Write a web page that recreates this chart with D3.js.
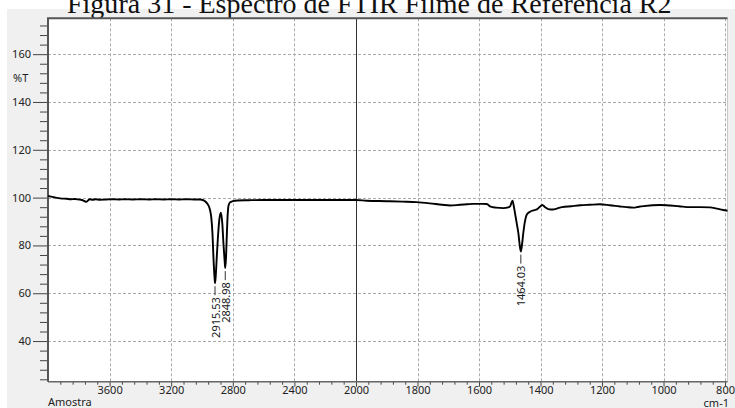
<!DOCTYPE html>
<html>
<head>
<meta charset="utf-8">
<script src="https://cdn.jsdelivr.net/npm/d3@7"></script>
<style>
  html, body { margin: 0; padding: 0; background: #ffffff; }
  svg { display: block; }
</style>
</head>
<body>
<svg id="chart" width="735" height="408"></svg>
<script>
// FTIR spectrum: wavenumber (cm-1) and transmittance (%T)
const wavenumbers = [
  4000, 3980, 3950, 3920, 3880, 3850, 3826, 3800, 3780, 3765, 3752, 3740, 3728, 3710, 3690, 3664,
  3620, 3580, 3540, 3500, 3450, 3400, 3340, 3300, 3250, 3200, 3150, 3100, 3050, 3010,
  2995, 2980, 2965, 2950, 2940, 2932, 2925, 2919, 2915.53, 2911, 2905, 2897, 2888, 2877,
  2868, 2860, 2853, 2848.98, 2844, 2839, 2834, 2828, 2818, 2800, 2770, 2700, 2600, 2500,
  2400, 2300, 2200, 2100, 2000, 1965, 1900, 1850, 1803, 1760, 1720, 1694, 1662, 1640, 1619,
  1590, 1575, 1562, 1545, 1521, 1505, 1499, 1494, 1491, 1487, 1483, 1477, 1472, 1468,
  1464.03, 1460, 1456, 1450, 1445, 1434, 1420, 1412, 1400, 1394, 1385, 1375, 1360, 1345,
  1330, 1300, 1270, 1240, 1207, 1175, 1142, 1120, 1098, 1080, 1060, 1035, 1012, 990, 979,
  950, 914, 880, 849, 830, 816, 800, 792
];
const transmittance = [
  100.7, 100.4, 100.0, 99.7, 99.5, 99.3, 99.4, 99.2, 99.0, 98.6, 98.2, 98.8, 99.3, 99.1, 99.3, 99.1,
  99.2, 99.3, 99.2, 99.3, 99.2, 99.3, 99.2, 99.3, 99.2, 99.3, 99.2, 99.3, 99.2, 99.2,
  99.0, 98.5, 97.4, 95.3, 91.8, 85.0, 74.0, 67.0, 64.2, 67.0, 74.0, 83.0, 90.5, 93.7,
  89.0, 80.0, 73.5, 70.5, 75.0, 84.0, 92.0, 96.6, 98.0, 98.5, 98.8, 98.9, 99.0, 99.0,
  99.0, 99.0, 99.0, 99.0, 99.0, 98.7, 98.5, 98.3, 98.1, 97.6, 97.0, 96.7, 97.0, 97.2, 97.4,
  97.4, 97.3, 96.2, 95.8, 95.6, 95.9, 96.3, 98.0, 98.7, 96.5, 93.5, 89.0, 85.1, 80.5,
  77.4, 80.5, 85.2, 90.5, 92.8, 94.1, 94.8, 95.1, 96.4, 96.9, 96.0, 95.2, 95.0, 95.5,
  96.0, 96.4, 96.8, 97.0, 97.2, 96.8, 96.3, 96.0, 95.8, 96.2, 96.5, 96.8, 96.9, 96.8, 96.7,
  96.4, 96.0, 96.0, 95.9, 95.5, 95.1, 94.7, 94.5
];

// Labelled absorption bands
const peakPositions = [2915.53, 2848.98, 1464.03];
const peakValues = [64.2, 70.5, 77.4];
const peakLabels = ["2915.53", "2848.98", "1464.03"];

// Axis ticks
const xMajorTicks = [3600, 3200, 2800, 2400, 2000, 1800, 1600, 1400, 1200, 1000, 800];
const xMinorTicksHigh = [3920, 3840, 3760, 3680, 3520, 3440, 3360, 3280, 3120, 3040, 2960, 2880,
  2720, 2640, 2560, 2480, 2320, 2240, 2160, 2080];
const xMinorTicksLow = [1960, 1920, 1880, 1840, 1760, 1720, 1680, 1640, 1560, 1520, 1480, 1440,
  1360, 1320, 1280, 1240, 1160, 1120, 1080, 1040, 960, 920, 880, 840];
const yMajorTicks = [40, 60, 80, 100, 120, 140, 160];
const yMinorTicks = [24, 28, 32, 36, 44, 48, 52, 56, 64, 68, 72, 76, 84, 88, 92, 96, 104, 108, 112, 116,
  124, 128, 132, 136, 144, 148, 152, 156, 164, 168, 172];

const titleText = "Figura 31 - Espectro de FTIR Filme de Referência R2";
const yUnit = "%T";
const xUnit = "cm-1";
const sampleName = "Amostra";

const svg = d3.select("#chart");
const W = 735, H = 408;
const plot = { left: 48, right: 727.5, top: 18.3, bottom: 381.7 };

// x axis changes scale at 2000 cm-1 (expanded fingerprint region)
const x = d3.scaleLinear()
  .domain([4000, 2000, 792])
  .range([plot.left, 356, plot.right]);
const y = d3.scaleLinear()
  .domain([23, 175])
  .range([plot.bottom, plot.top]);

const sans = "'Noto Sans', 'Open Sans', 'Liberation Sans', sans-serif";

// window panel
svg.append("rect").attr("x", 0).attr("y", 0).attr("width", W).attr("height", H).attr("fill", "#ffffff");
svg.append("rect").attr("x", 7).attr("y", 9).attr("width", W - 7).attr("height", H - 9).attr("fill", "#f0f0f0");

// plot area
svg.append("rect")
  .attr("x", plot.left).attr("y", plot.top)
  .attr("width", plot.right - plot.left).attr("height", plot.bottom - plot.top)
  .attr("fill", "#ffffff");

// title
const title = svg.append("text")
  .attr("x", 67).attr("y", 12.5)
  .attr("font-family", "'Liberation Serif', 'Times New Roman', serif")
  .attr("font-size", 25)
  .attr("fill", "#111")
  .text(titleText);
const tLen = title.node().getComputedTextLength();
title.attr("font-size", 25 * 605 / tLen);

// grid
const grid = svg.append("g").attr("stroke", "#ababab").attr("stroke-width", 1).attr("stroke-dasharray", "3,2");
grid.selectAll("line.h").data(yMajorTicks).join("line")
  .attr("x1", plot.left).attr("x2", plot.right)
  .attr("y1", d => Math.round(y(d)) + 0.5).attr("y2", d => Math.round(y(d)) + 0.5);
grid.selectAll("line.v").data(xMajorTicks.filter(d => d !== 2000)).join("line")
  .attr("x1", d => Math.round(x(d)) + 0.5).attr("x2", d => Math.round(x(d)) + 0.5)
  .attr("y1", plot.top).attr("y2", plot.bottom);

// region divider at 2000 cm-1
svg.append("line")
  .attr("x1", Math.round(x(2000)) + 0.5).attr("x2", Math.round(x(2000)) + 0.5)
  .attr("y1", plot.top).attr("y2", plot.bottom)
  .attr("stroke", "#333").attr("stroke-width", 1);

// axes
function styleAxis(g) {
  g.select(".domain").remove();
  g.selectAll(".tick line").attr("stroke", "#444");
  g.selectAll(".tick text").attr("fill", "#222").attr("font-family", sans).attr("font-size", 11);
}

svg.append("g").attr("transform", `translate(${plot.left},0)`)
  .call(d3.axisLeft(y).tickValues(yMinorTicks).tickSize(8).tickFormat(""))
  .call(styleAxis);
svg.append("g").attr("transform", `translate(${plot.left},0)`)
  .call(d3.axisLeft(y).tickValues(yMajorTicks).tickSize(15).tickPadding(2))
  .call(styleAxis);

svg.append("g").attr("transform", `translate(0,${plot.bottom})`)
  .call(d3.axisBottom(x).tickValues(xMinorTicksHigh.concat(xMinorTicksLow)).tickSize(3).tickFormat(""))
  .call(styleAxis);
svg.append("g").attr("transform", `translate(0,${plot.bottom})`)
  .call(d3.axisBottom(x).tickValues(xMajorTicks).tickSize(5).tickPadding(-1).tickFormat(d3.format("d")))
  .call(styleAxis);

// frame
svg.append("line").attr("x1", plot.right).attr("x2", plot.right).attr("y1", plot.top).attr("y2", plot.bottom)
  .attr("stroke", "#c8c8c8").attr("stroke-width", 1);
svg.append("path")
  .attr("d", `M${plot.left},${plot.bottom} V${plot.top} H${plot.right}`)
  .attr("fill", "none").attr("stroke", "#555").attr("stroke-width", 2);
svg.append("line").attr("x1", plot.left).attr("x2", plot.right).attr("y1", plot.bottom).attr("y2", plot.bottom)
  .attr("stroke", "#666").attr("stroke-width", 1.5);

// unit labels
svg.append("text").attr("x", 13).attr("y", 82)
  .attr("font-family", sans).attr("font-size", 11).attr("fill", "#222").text(yUnit);
svg.append("text").attr("x", 48).attr("y", 406)
  .attr("font-family", sans).attr("font-size", 11).attr("fill", "#222").text(sampleName);
svg.append("text").attr("x", 729).attr("y", 406.5).attr("text-anchor", "end")
  .attr("font-family", sans).attr("font-size", 11).attr("fill", "#222").text(xUnit);

// spectrum
const points = wavenumbers.map((w, i) => [w, transmittance[i]]);
const line = d3.line().x(d => x(d[0])).y(d => y(d[1])).curve(d3.curveMonotoneX);
svg.append("path")
  .datum(points)
  .attr("d", line)
  .attr("fill", "none")
  .attr("stroke", "#000")
  .attr("stroke-width", 1.9)
  .attr("stroke-linejoin", "round");

// peak annotations
const ann = svg.append("g");
peakPositions.forEach((p, i) => {
  const px = x(p), py = y(peakValues[i]);
  ann.append("line")
    .attr("x1", px).attr("x2", px)
    .attr("y1", py + 3).attr("y2", py + 12)
    .attr("stroke", "#333").attr("stroke-width", 1);
  ann.append("text")
    .attr("transform", `translate(${px},${py + 14}) rotate(-90)`)
    .attr("text-anchor", "end")
    .attr("dominant-baseline", "central")
    .attr("font-family", sans).attr("font-size", 11).attr("fill", "#222")
    .text(peakLabels[i]);
});
</script>
</body>
</html>
